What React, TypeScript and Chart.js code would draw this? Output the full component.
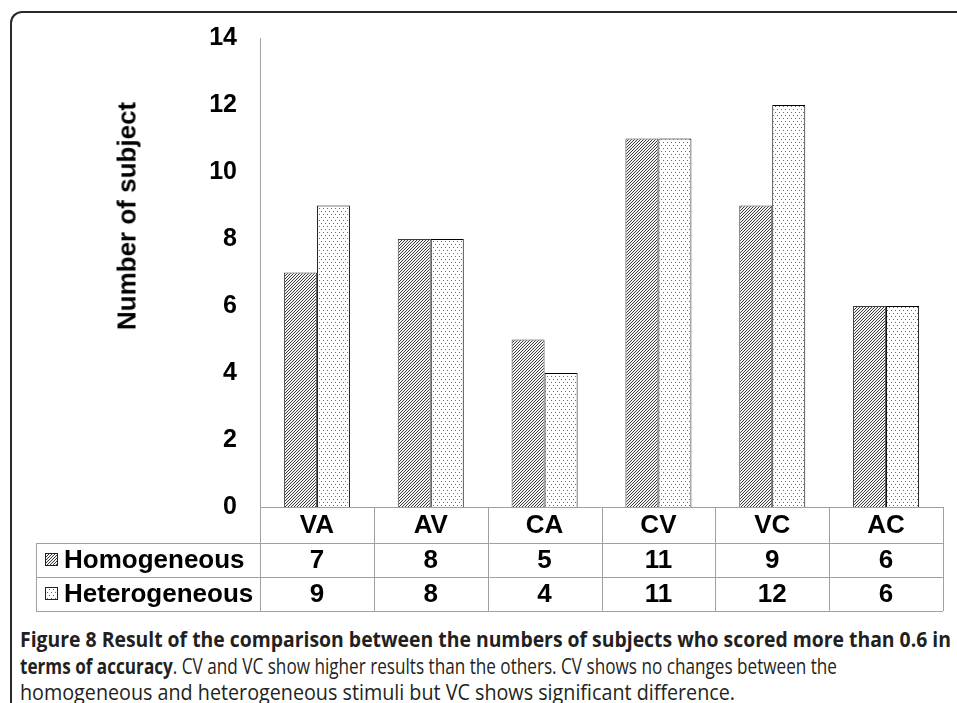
import React, { useEffect, useRef } from 'react';
import { Chart, registerables } from 'chart.js';

Chart.register(...registerables);

const categories = ['VA', 'AV', 'CA', 'CV', 'VC', 'AC'];
const homogeneous = [7, 8, 5, 11, 9, 6];
const heterogeneous = [9, 8, 4, 11, 12, 6];
const seriesNames = ['Homogeneous', 'Heterogeneous'];
const yAxisTitle = 'Number of subject';
const yMin = 0;
const yMax = 14;
const yStep = 2;

const FONT = "'Liberation Sans', Arial, Helvetica, sans-serif";

function makeHatch(): CanvasPattern {
  const c = document.createElement('canvas');
  c.width = 3;
  c.height = 3;
  const g = c.getContext('2d')!;
  g.fillStyle = '#f4f4f4';
  g.fillRect(0, 0, 3, 3);
  g.fillStyle = '#3c3c3c';
  for (let i = 0; i < 3; i++) g.fillRect(i, 2 - i, 1, 1);
  return g.createPattern(c, 'repeat')!;
}

function makeDots(): CanvasPattern {
  const c = document.createElement('canvas');
  c.width = 4;
  c.height = 6;
  const g = c.getContext('2d')!;
  g.fillStyle = '#ffffff';
  g.fillRect(0, 0, 4, 6);
  g.fillStyle = '#6a6a6a';
  g.fillRect(1, 1, 1, 1);
  g.fillRect(3, 4, 1, 1);
  return g.createPattern(c, 'repeat')!;
}

const captionLines: { bold: string; rest: string; top: number; width: number }[] = [
  { bold: 'Figure 8 Result of the comparison between the numbers of subjects who scored more than 0.6 in', rest: '', top: 626, width: 931 },
  { bold: 'terms of accuracy', rest: '. CV and VC show higher results than the others. CV shows no changes between the', top: 653, width: 817 },
  { bold: '', rest: 'homogeneous and heterogeneous stimuli but VC shows significant difference.', top: 679, width: 715 },
];

export default function App() {
  const canvasRef = useRef<HTMLCanvasElement | null>(null);
  const lineRefs = useRef<(HTMLDivElement | null)[]>([]);

  useEffect(() => {
    const canvas = canvasRef.current;
    if (!canvas) return;
    const hatch = makeHatch();
    const dots = makeDots();
    const patterns = [hatch, dots];

    const tablePlugin = {
      id: 'dataTable',
      afterDraw(chart: any) {
        const ctx: CanvasRenderingContext2D = chart.ctx;
        const xs = chart.scales.x;
        const area = chart.chartArea;
        const n = categories.length;
        const colW = (area.right - area.left) / n;
        const top = area.bottom;
        const hdrH = 36;
        const rowH = 34;
        const tableLeft = 36;
        const y1 = top + hdrH;
        const y2 = y1 + rowH;
        const y3 = y2 + rowH;
        ctx.save();
        ctx.strokeStyle = '#a0a0a0';
        ctx.lineWidth = 1;
        const h = (x0: number, x1: number, y: number) => {
          ctx.beginPath();
          ctx.moveTo(x0, Math.round(y) + 0.5);
          ctx.lineTo(x1, Math.round(y) + 0.5);
          ctx.stroke();
        };
        const v = (x: number, y0: number, yy1: number) => {
          ctx.beginPath();
          ctx.moveTo(Math.round(x) + 0.5, y0);
          ctx.lineTo(Math.round(x) + 0.5, yy1);
          ctx.stroke();
        };
        h(area.left, area.right, top);
        h(tableLeft, area.right, y1);
        h(tableLeft, area.right, y2);
        h(tableLeft, area.right, y3);
        v(tableLeft, y1, y3);
        for (let i = 0; i <= n; i++) {
          v(area.left + i * colW, top, y3);
        }
        ctx.fillStyle = '#000';
        ctx.font = `bold 26px ${FONT}`;
        ctx.textAlign = 'center';
        ctx.textBaseline = 'middle';
        const labels = xs.getLabels();
        const rows = [homogeneous, heterogeneous];
        for (let i = 0; i < n; i++) {
          const cx = xs.getPixelForValue(i);
          ctx.fillText(labels[i], cx, top + hdrH / 2 + 1);
          ctx.fillText(String(rows[0][i]), cx, y1 + rowH / 2 + 1);
          ctx.fillText(String(rows[1][i]), cx, y2 + rowH / 2 + 1);
        }
        ctx.textAlign = 'left';
        const rowTops = [y1, y2];
        for (let s = 0; s < 2; s++) {
          const cy = rowTops[s] + rowH / 2;
          ctx.fillStyle = patterns[s];
          ctx.fillRect(45, cy - 7, 13, 13);
          ctx.strokeStyle = '#222';
          ctx.strokeRect(45.5, cy - 6.5, 12, 12);
          ctx.fillStyle = '#000';
          ctx.fillText(seriesNames[s], 64, cy + 1);
        }
        ctx.restore();
      },
    };

    const chart = new Chart(canvas, {
      type: 'bar',
      data: {
        labels: categories,
        datasets: [
          {
            label: seriesNames[0],
            data: homogeneous,
            backgroundColor: hatch,
            borderColor: '#3c3c3c',
            borderWidth: 1,
            categoryPercentage: 0.58,
            barPercentage: 1,
          },
          {
            label: seriesNames[1],
            data: heterogeneous,
            backgroundColor: dots,
            borderColor: '#000000',
            borderWidth: 1,
            categoryPercentage: 0.58,
            barPercentage: 1,
          },
        ],
      },
      options: {
        responsive: false,
        animation: false,
        devicePixelRatio: 1,
        layout: { padding: { left: 0, top: 38, right: 14, bottom: 108 } },
        plugins: {
          legend: { display: false },
          tooltip: { enabled: false },
        },
        scales: {
          x: { display: false },
          y: {
            min: yMin,
            max: yMax,
            grid: { display: false, drawTicks: false },
            border: { display: true, color: '#a0a0a0', width: 1 },
            ticks: {
              stepSize: yStep,
              padding: 23,
              color: '#000',
              font: { family: FONT, size: 25, weight: 'bold' },
            },
            afterFit: (scale: any) => {
              scale.width = 260;
            },
          },
        },
      },
      plugins: [tablePlugin],
    } as any);

    lineRefs.current.forEach((el, i) => {
      if (!el) return;
      el.style.transform = 'none';
      const w = el.getBoundingClientRect().width;
      if (w > 0) el.style.transform = `scaleX(${captionLines[i].width / w})`;
    });

    return () => chart.destroy();
  }, []);

  return (
    <div style={{ position: 'fixed', left: 0, top: 0, width: 957, height: 703, background: '#fff', overflow: 'hidden' }}>
      <div
        style={{
          position: 'absolute',
          left: 10,
          top: 11,
          width: 980,
          height: 720,
          borderLeft: '2px solid #2a2a2a',
          borderTop: '2px solid #2a2a2a',
          borderTopLeftRadius: 12,
          boxSizing: 'border-box',
        }}
      />
      <canvas ref={canvasRef} width={957} height={615} style={{ position: 'absolute', left: 0, top: 0, width: 957, height: 615 }} />
      <div
        style={{
          position: 'absolute',
          left: 127,
          top: 216,
          transform: 'translate(-50%, -50%) rotate(-90deg)',
          whiteSpace: 'nowrap',
          font: `bold 26px ${FONT}`,
          color: '#000',
        }}
      >
        {yAxisTitle}
      </div>
      {captionLines.map((ln, i) => (
        <div
          key={i}
          ref={(el) => {
            lineRefs.current[i] = el;
          }}
          style={{
            position: 'absolute',
            left: 20,
            top: ln.top,
            display: 'inline-block',
            whiteSpace: 'nowrap',
            fontFamily: "'Open Sans', sans-serif",
            fontSize: 21,
            lineHeight: '26px',
            color: '#231f20',
            transformOrigin: '0 0',
          }}
        >
          {ln.bold && <span style={{ fontWeight: 700 }}>{ln.bold}</span>}
          {ln.rest && <span style={{ fontWeight: 400 }}>{ln.rest}</span>}
        </div>
      ))}
    </div>
  );
}
